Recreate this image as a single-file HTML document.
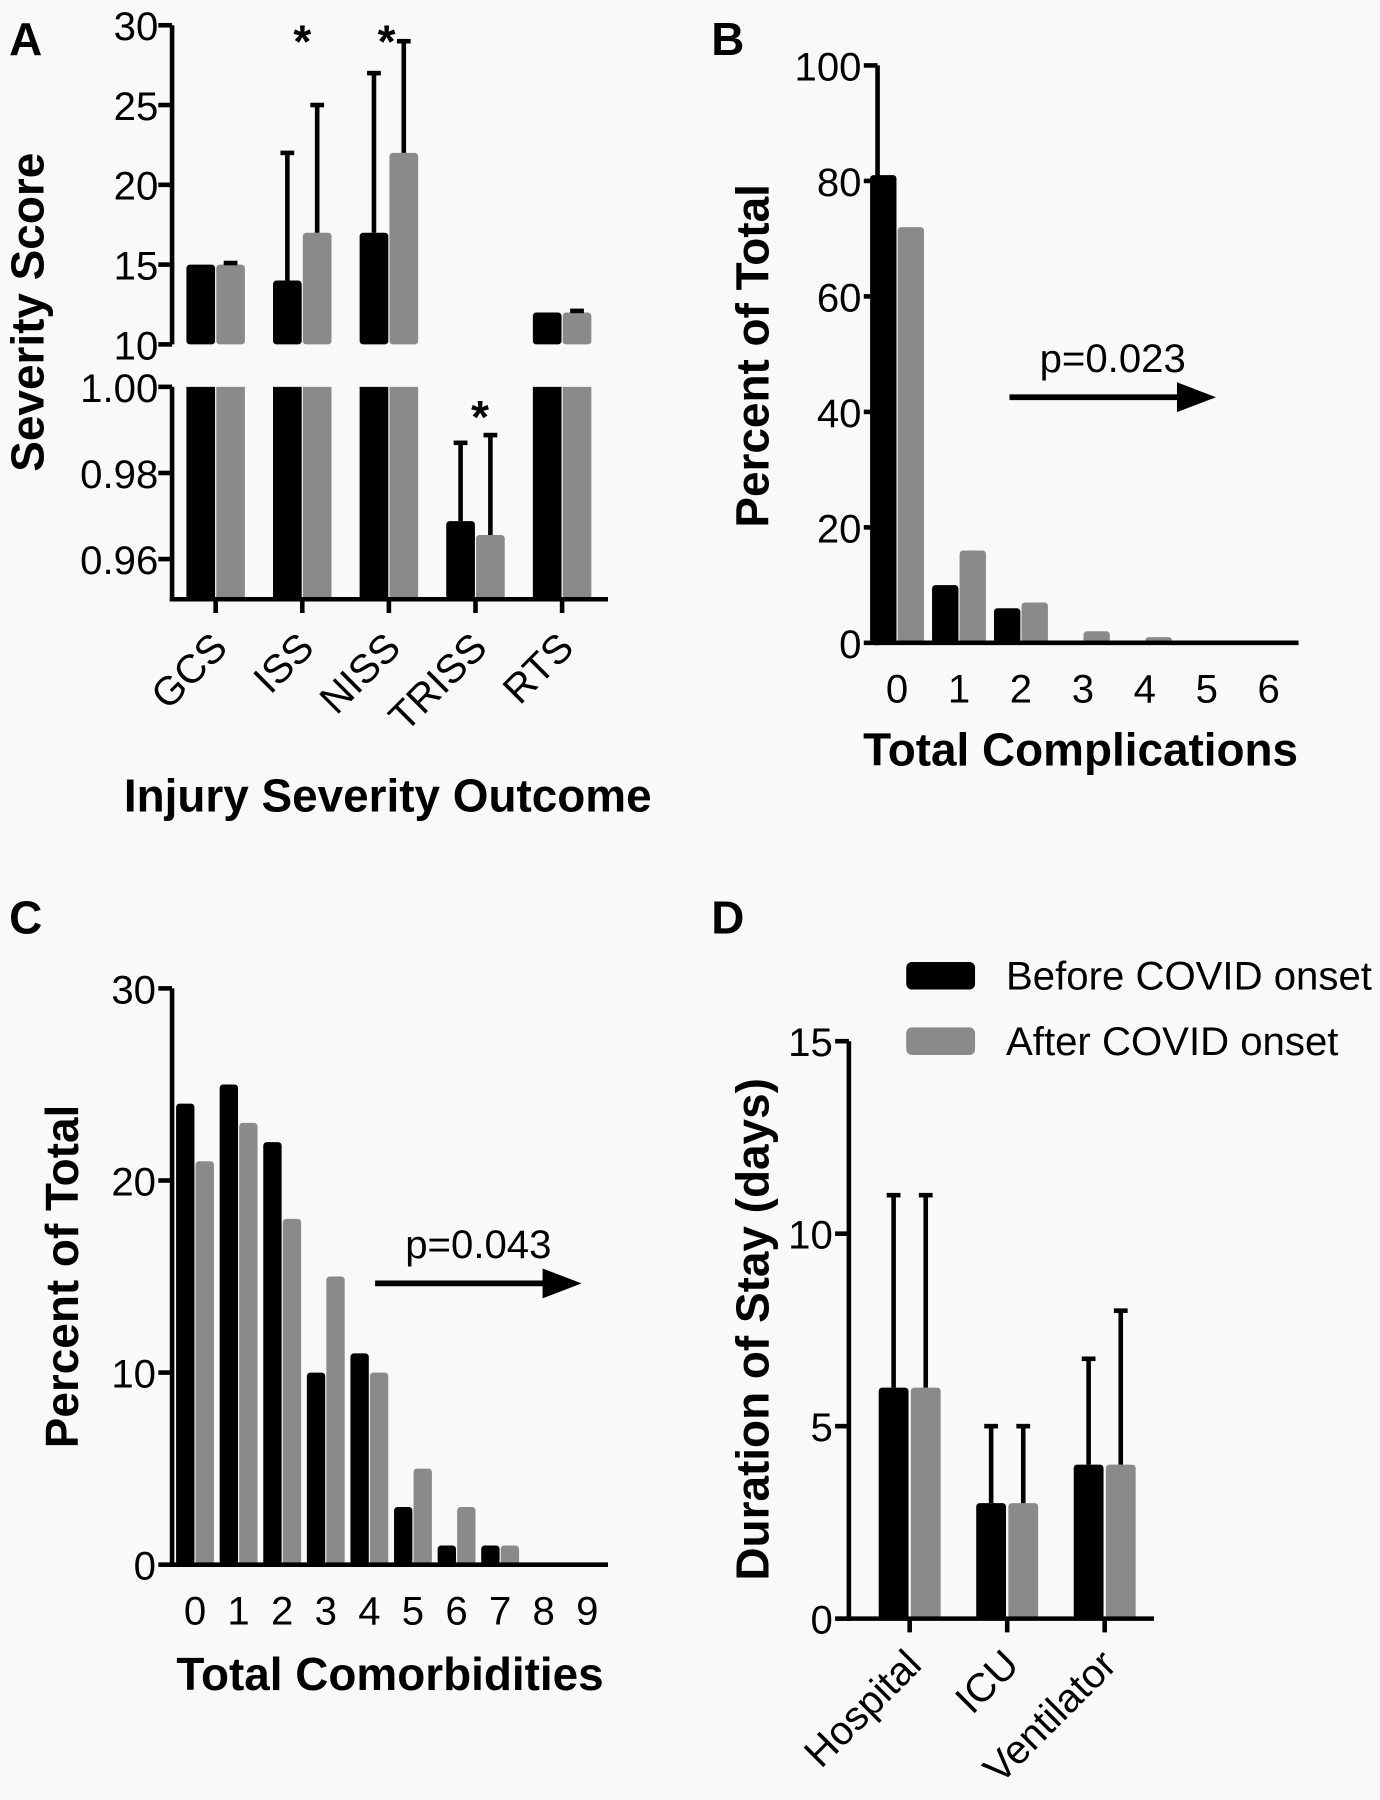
<!DOCTYPE html>
<html><head><meta charset="utf-8"><style>
html,body{margin:0;padding:0;background:#f9f9f9}
svg{display:block}
text{font-family:"Liberation Sans",Arial,sans-serif;fill:#000}
.tk{font-size:35px}
.tt{font-size:40px;font-weight:bold}
.pl{font-size:40px;font-weight:bold}
.st{font-size:40px;font-weight:bold}
</style></head><body>
<svg id="fig" width="1380" height="1800" viewBox="0 0 1203 1568" preserveAspectRatio="none" xmlns="http://www.w3.org/2000/svg"></svg>
<script>
// Panel A data
const aCats=["GCS","ISS","NISS","TRISS","RTS"];
const aBefore=[15,14,17,0.9688,12];
const aAfter=[15,17,22,0.9656,12];
const aBeforeErr=[15,22,27,0.987,12];
const aAfterErr=[15.1,25,29,0.9888,12.1];
const aUpperTicks=[10,15,20,25,30];
const aLowerTicks=[0.96,0.98,1.00];
const aLowerLabels=["0.96","0.98","1.00"];
const aStars=[1,2,3];
// Panel B data
const bCats=["0","1","2","3","4","5","6"];
const bBefore=[81,10,6,0,0,0,0];
const bAfter=[72,16,7,2,1,0,0];
const bTicks=[0,20,40,60,80,100];
// Panel C data
const cCats=["0","1","2","3","4","5","6","7","8","9"];
const cBefore=[24,25,22,10,11,3,1,1,0,0];
const cAfter=[21,23,18,15,10,5,3,1,0,0];
const cTicks=[0,10,20,30];
// Panel D data
const dCats=["Hospital","ICU","Ventilator"];
const dBefore=[6,3,4];
const dAfter=[6,3,4];
const dBeforeErr=[11,5,6.75];
const dAfterErr=[11,5,8];
const dTicks=[0,5,10,15];

const NS="http://www.w3.org/2000/svg";
const svg=document.getElementById('fig');
const BLK="#000",GRY="#8a8a8a";
function mk(tag,attrs,parent){const e=document.createElementNS(NS,tag);for(const k in attrs)e.setAttribute(k,attrs[k]);(parent||svg).appendChild(e);return e;}
function txt(s,x,y,cls,anchor,parent,rot){const t=mk('text',{x:x,y:y,class:cls,'text-anchor':anchor||'middle'},parent);if(rot!==undefined)t.setAttribute('transform',`rotate(${rot} ${x} ${y})`);t.textContent=s;return t;}
function line(x1,y1,x2,y2,w,parent){return mk('line',{x1,y1,x2,y2,stroke:'#000','stroke-width':w||4},parent);}
function errBar(x,y0,y1,g){const l=line(x,y0,x,y1,4,g);line(x-6,y1,x+6,y1,4,g);}

// ---------- Panel A ----------
(function(){
 const g=mk('g',{});
 const ax=150, x1=530, upTop=22, upBot=300, loTop=337, loBot=522;
 const yU=v=>upBot-(v-10)/(30-10)*(upBot-upTop);
 const yL=v=>loTop+(1.0-v)/(1.0-0.96)*(487-337);
 const xc=i=>188+i*75.5;
 const bw=25;
 aCats.forEach((c,i)=>{
  [[aBefore,aBeforeErr,BLK,-13],[aAfter,aAfterErr,GRY,13]].forEach(([vals,errs,col,off],s)=>{
   const v=vals[i],e=errs[i],cx=xc(i)+off;
   let bar;
   if(v>=2){
     bar=mk('rect',{x:cx-bw/2,y:yU(v),width:bw,height:upBot-yU(v),fill:col,rx:3},g);
     const b2=mk('rect',{x:cx-bw/2,y:loTop,width:bw,height:loBot-loTop,fill:col},g);
     
     if(e>v) errBar(cx,yU(v),yU(e),g);
   } else {
     bar=mk('rect',{x:cx-bw/2,y:yL(v),width:bw,height:loBot-yL(v),fill:col,rx:3},g);
     if(e>v) errBar(cx,yL(v),yL(e),g);
   }
   
   
  });
  line(xc(i),loBot,xc(i),loBot+12,4,g);
  const lab=txt(c,xc(i)+12,loBot+44,'tk','end',g,-45);
  
 });
 aStars.forEach(i=>{
  const cx=xc(i)+(i===3?0:0); const e=aAfterErr[i];
  const y=i===3?yL(e)-2:50;
  const s=txt('*',i===3?xc(i)+4:xc(i)+(i===1?0:-2),y,'st','middle',g);
 });
 line(ax,upTop,ax,upBot,4,g);line(ax,loTop,ax,loBot+2,4,g);line(ax-2,loBot,x1,loBot,4,g);
 aUpperTicks.forEach(t=>{line(ax-12,yU(t),ax,yU(t),4,g);txt(String(t),ax-12,yU(t)+13,'tk','end',g);});
 aLowerTicks.forEach((t,i)=>{line(ax-12,yL(t),ax,yL(t),4,g);txt(aLowerLabels[i],ax-12,yL(t)+13,'tk','end',g);});
 const yt=txt('Severity Score',38,272,'tt','middle',g,-90);
 const xt=txt('Injury Severity Outcome',338,707,'tt','middle',g);
 const p=txt('A',8,48,'pl','start',g);
})();

// ---------- generic bar panel ----------
function barPanel(o){
 const g=mk('g',{});
 const y=v=>o.y0-(v/o.max)*(o.y0-o.yTop);
 const xc=i=>o.x0c+i*o.step;
 o.cats.forEach((c,i)=>{
  [[o.before,o.berr,BLK,-o.off],[o.after,o.aerr,GRY,o.off]].forEach(([vals,errs,col,off],s)=>{
   const v=vals[i],cx=xc(i)+off;
   if(v>0){
    const b=mk('rect',{x:cx-o.bw/2,y:y(v),width:o.bw,height:o.y0-y(v),fill:col,rx:3},g);
    
    
   }
   if(errs&&errs[i]>v) errBar(cx,y(v),y(errs[i]),g);
  });
  if(o.rotLabels){
   line(xc(i),o.y0,xc(i),o.y0+12,4,g);
   const l=txt(c,xc(i)+12,o.y0+42,'tk','end',g,-45);
  } else {
   const l=txt(c,xc(i),o.y0+52,'tk','middle',g);
  }
 });
 line(o.ax,o.yTop,o.ax,o.y0+2,4,g);line(o.ax-2,o.y0,o.x1,o.y0,4,g);
 o.ticks.forEach(t=>{line(o.ax-12,y(t),o.ax,y(t),4,g);txt(String(t),o.ax-14,y(t)+13,'tk','end',g);});
 const yt=txt(o.ytitle,o.ytx,o.yty,'tt','middle',g,-90);
 if(o.xtitle){const xt=txt(o.xtitle,o.xtx,o.xty,'tt','middle',g);}
 const p=txt(o.label,o.lx,o.ly,'pl','start',g);
 if(o.arrow){
  const a=o.arrow;
  const ag=mk('g',{},g);
  line(a.x1,a.y,a.x2-30,a.y,5,ag);
  mk('polygon',{points:`${a.x2},${a.y} ${a.x2-34},${a.y-13} ${a.x2-34},${a.y+13}`,fill:'#000'},ag);
  const pt=txt(a.t,(a.x1+a.x2)/2,a.y-22,'tk','middle',g);
 }
}
barPanel({name:'panel-b',cats:bCats,before:bBefore,after:bAfter,ticks:bTicks,max:100,ax:765,x1:1132,y0:560,yTop:57,x0c:782,step:54,off:12,bw:23,
 ytitle:'Percent of Total',ytx:670,yty:310,xtitle:'Total Complications',xtx:942,xty:667,label:'B',lx:620,ly:48,
 arrow:{x1:880,x2:1060,y:346,t:'p=0.023'}});
barPanel({name:'panel-c',cats:cCats,before:cBefore,after:cAfter,ticks:cTicks,max:30,ax:150,x1:530,y0:1363,yTop:861,x0c:170,step:38,off:8.5,bw:16,
 ytitle:'Percent of Total',ytx:68,yty:1112,xtitle:'Total Comorbidities',xtx:340,xty:1472,label:'C',lx:8,ly:813,
 arrow:{x1:327,x2:507,y:1118,t:'p=0.043'}});
barPanel({name:'panel-d',cats:dCats,before:dBefore,after:dAfter,berr:dBeforeErr,aerr:dAfterErr,ticks:dTicks,max:15,ax:740,x1:1006,y0:1410,yTop:907,x0c:793,step:85,off:14,bw:26,rotLabels:true,
 ytitle:'Duration of Stay (days)',ytx:670,yty:1158,label:'D',lx:620,ly:813});

// legend
(function(){
 const g=mk('g',{});
 const e1=mk('g',{},g);
 mk('rect',{x:790,y:838,width:60,height:24,rx:5,fill:BLK},e1);txt('Before COVID onset',877,862,'tk','start',e1);
 const e2=mk('g',{},g);
 mk('rect',{x:790,y:895,width:60,height:24,rx:5,fill:GRY},e2);txt('After COVID onset',877,919,'tk','start',e2);
})();
</script>
</body></html>
